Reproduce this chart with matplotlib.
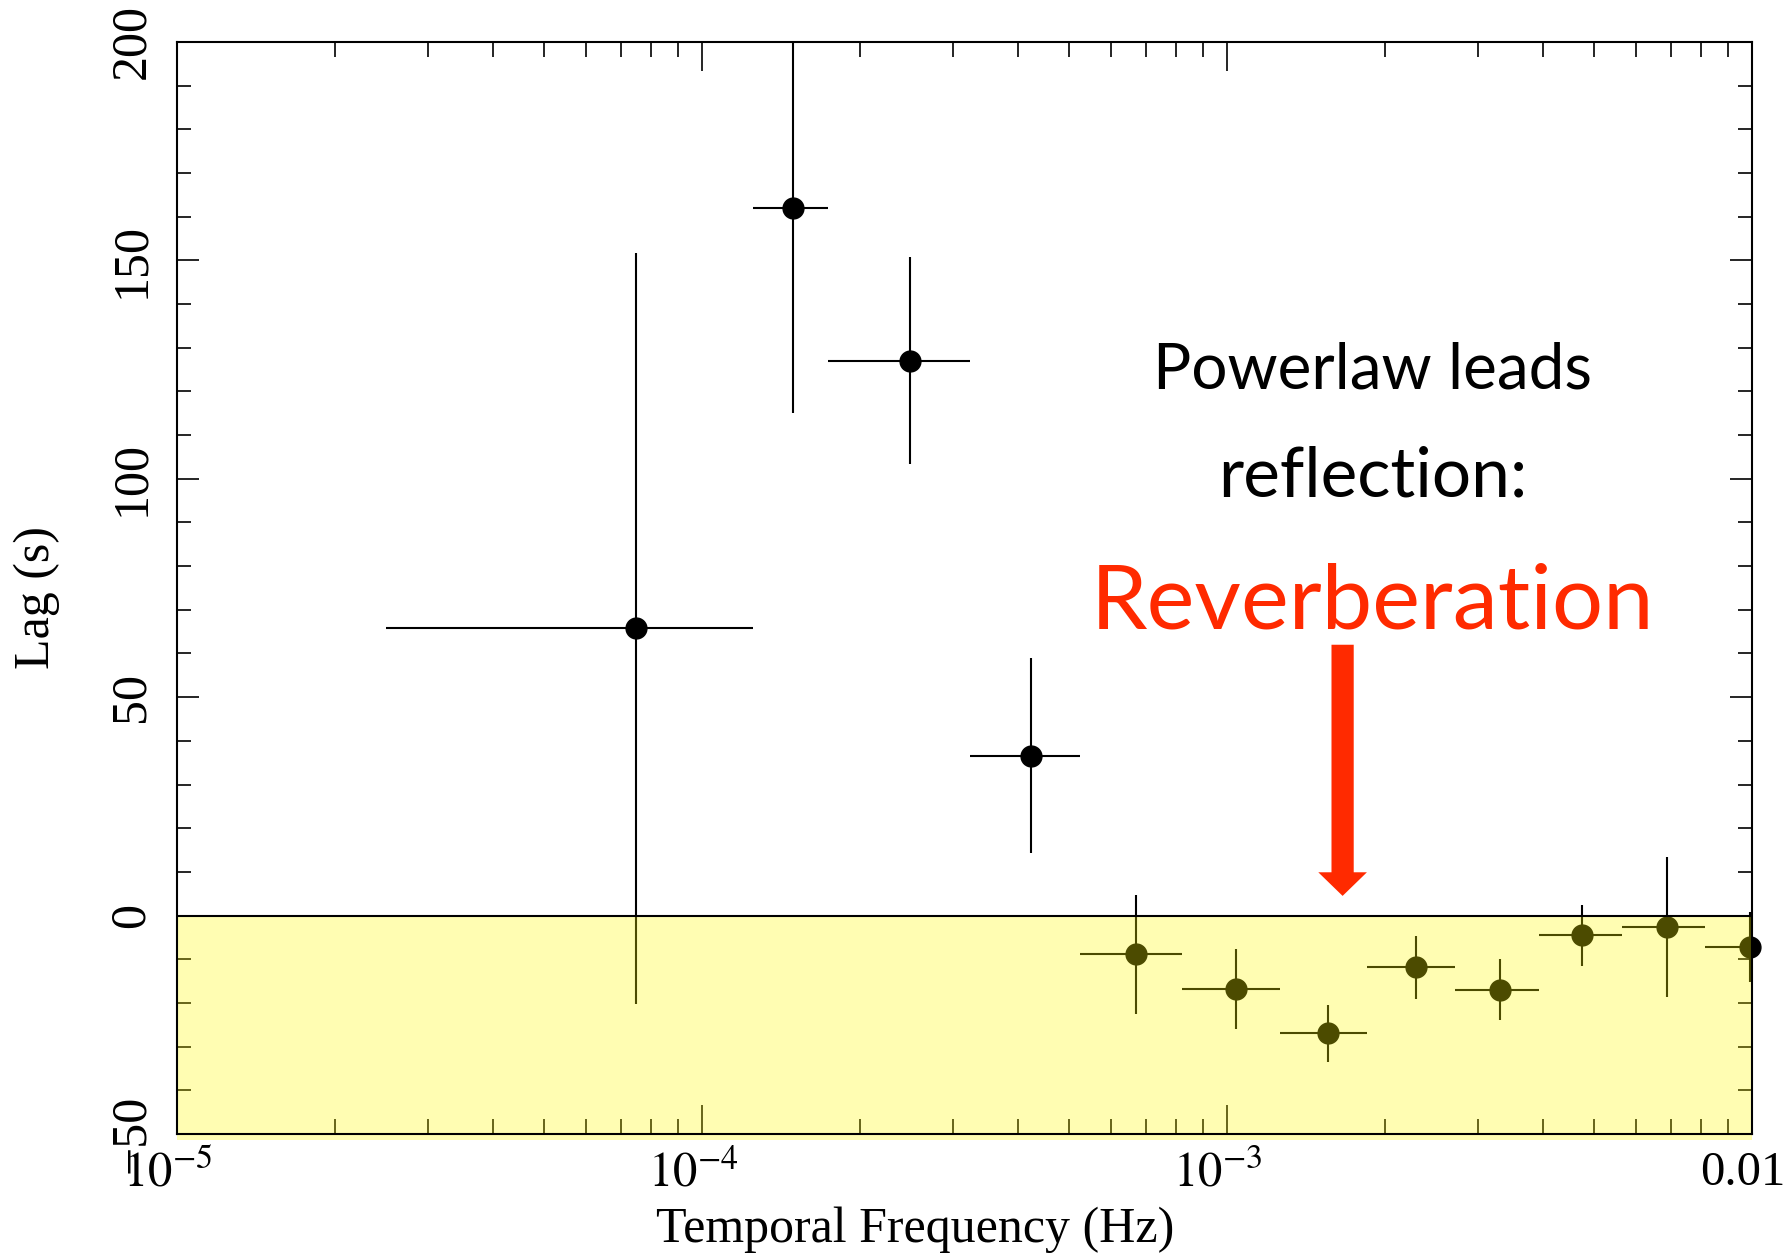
import numpy as np
import matplotlib
matplotlib.use("Agg")
import matplotlib.pyplot as plt
import matplotlib.transforms as mtransforms
from matplotlib.ticker import LogLocator, NullFormatter, MultipleLocator

plt.rcParams['font.family'] = ['Liberation Serif', 'DejaVu Serif']
plt.rcParams['mathtext.fontset'] = 'stix'

# ---- data ----
freq    = [7.48e-5, 1.49e-4, 2.49e-4, 4.23e-4, 6.70e-4, 1.04e-3, 1.56e-3, 2.29e-3, 3.31e-3, 4.74e-3, 6.90e-3, 9.9e-3]
freq_lo = [2.50e-5, 1.25e-4, 1.74e-4, 3.24e-4, 5.25e-4, 8.22e-4, 1.26e-3, 1.85e-3, 2.72e-3, 3.92e-3, 5.65e-3, 8.15e-3]
freq_hi = [1.25e-4, 1.74e-4, 3.24e-4, 5.25e-4, 8.22e-4, 1.26e-3, 1.85e-3, 2.72e-3, 3.92e-3, 5.65e-3, 8.15e-3, 1.20e-2]
lag     = [65.8, 162.1, 127.0, 36.6, -8.9, -16.8, -27.0, -11.8, -17.0, -4.5, -2.6, -7.3]
lag_err = [86.0, 47.0, 23.7, 22.3, 13.7, 9.2, 6.5, 7.2, 7.0, 7.0, 16.0, 8.0]

xticks = [1e-5, 1e-4, 1e-3, 1e-2]
xticklabels = [r'$10^{-5}$', r'$10^{-4}$', r'$10^{-3}$', '0.01']
yticks = [-50, 0, 50, 100, 150, 200]
yticklabels = ['\u221250', '0', '50', '100', '150', '200']

# ---- figure ----
fig = plt.figure(figsize=(17.9, 12.57), dpi=100)
ax = fig.add_axes([0.0989, 0.0979, 0.8799, 0.8687])
ax.set_xscale('log')
ax.set_xlim(1e-5, 1e-2)
ax.set_ylim(-50, 200)

f = np.array(freq)
xerr = np.vstack([f - np.array(freq_lo), np.array(freq_hi) - f])
ax.errorbar(freq, lag, xerr=xerr, yerr=lag_err, fmt='none', ecolor='black',
            elinewidth=1.5, capsize=0, zorder=3)
ax.plot(freq, lag, 'o', color='black', ms=15, zorder=4, clip_on=False)
ax.axhline(0, color='black', lw=1.5, zorder=6)

# yellow translucent overlay on negative lag region
ax.fill_between([1e-5, 1e-2], -51.5, 0, color=(1.0, 0.98, 0.0), alpha=0.30,
                lw=0, zorder=5, clip_on=False)

# ticks
ax.set_xticks(xticks)
ax.set_xticklabels(xticklabels)
ax.xaxis.set_minor_locator(LogLocator(base=10, subs=np.arange(2, 10)))
ax.xaxis.set_minor_formatter(NullFormatter())
ax.set_yticks(yticks)
ax.set_yticklabels(yticklabels, rotation=90, va='center')
ax.yaxis.set_minor_locator(MultipleLocator(10))
ax.tick_params(axis='both', which='both', direction='in', top=True, right=True, width=1.2, color='black')
ax.tick_params(axis='x', which='major', length=21, labelsize=35, pad=12)
ax.tick_params(axis='x', which='minor', length=11)
ax.tick_params(axis='y', which='major', length=16, labelsize=36, pad=16)
ax.tick_params(axis='y', which='minor', length=10)
shift = mtransforms.ScaledTranslation(-9 / 100, 0, fig.dpi_scale_trans)
for lbl in ax.get_xticklabels():
    lbl.set_transform(lbl.get_transform() + shift)
for s in ax.spines.values():
    s.set_linewidth(1.5)
    s.set_zorder(7)

fig.text(0.511, 0.003, 'Temporal Frequency (Hz)', fontsize=36, ha='center', va='bottom')
fig.text(0.0207, 0.525, 'Lag (s)', fontsize=36, rotation=90, ha='center', va='center')

# annotations
afont = ['Lato', 'DejaVu Sans']
ax.text(0.759, 0.699, 'Powerlaw leads', transform=ax.transAxes, ha='center', va='center',
        fontsize=46, family=afont, color='black', zorder=8)
ax.text(0.759, 0.602, 'reflection:', transform=ax.transAxes, ha='center', va='center',
        fontsize=50, family=afont, color='black', zorder=8)
ax.text(0.759, 0.486, 'Reverberation', transform=ax.transAxes, ha='center', va='center',
        fontsize=65, family=afont, color='#ff2a00', zorder=8)
ax.annotate('', xy=(1.66e-3, 4.5), xytext=(1.66e-3, 62),
            arrowprops=dict(facecolor='#ff2a00', edgecolor='none', width=16, headwidth=35,
                            headlength=17, shrink=0.0), zorder=8)

fig.savefig('out.png', dpi=100)
